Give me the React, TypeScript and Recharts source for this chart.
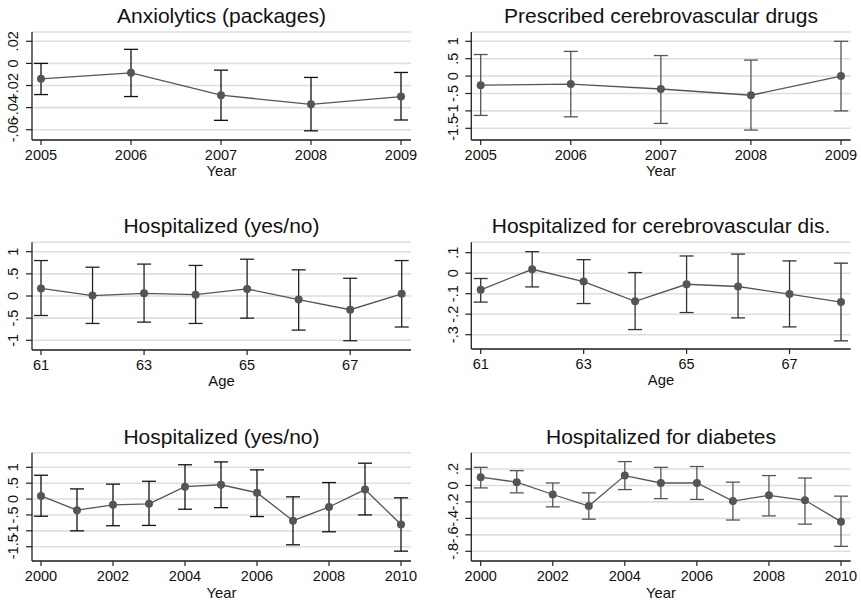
import React from 'react';
import { LineChart, Line, XAxis, YAxis, CartesianGrid, ErrorBar } from 'recharts';

// ---------- Data ----------
// Panel 1: Anxiolytics (packages)
const yearsA = [2005, 2006, 2007, 2008, 2009];
const anxEst = [-0.014, -0.0085, -0.0288, -0.037, -0.03];
const anxLo = [-0.0282, -0.03, -0.0515, -0.061, -0.0512];
const anxHi = [0.0, 0.0127, -0.0061, -0.0127, -0.0082];
const anxTicks = [-0.06, -0.04, -0.02, 0, 0.02];

// Panel 2: Prescribed cerebrovascular drugs
const cereEst = [-0.26, -0.23, -0.37, -0.55, 0.0];
const cereLo = [-1.13, -1.17, -1.36, -1.55, -1.0];
const cereHi = [0.62, 0.71, 0.59, 0.46, 1.0];
const cereTicks = [-1.5, -1, -0.5, 0, 0.5, 1];

// Panel 3: Hospitalized (yes/no) by age
const ages = [61, 62, 63, 64, 65, 66, 67, 68];
const ageTicks = [61, 63, 65, 67];
const hospAgeEst = [0.17, 0.01, 0.06, 0.03, 0.16, -0.08, -0.31, 0.05];
const hospAgeLo = [-0.44, -0.62, -0.59, -0.62, -0.5, -0.77, -1.01, -0.7];
const hospAgeHi = [0.8, 0.65, 0.72, 0.69, 0.83, 0.59, 0.4, 0.8];
const hospAgeTicks = [-1, -0.5, 0, 0.5, 1];

// Panel 4: Hospitalized for cerebrovascular dis. by age
const cvdAgeEst = [-0.081, 0.019, -0.041, -0.137, -0.054, -0.065, -0.102, -0.141];
const cvdAgeLo = [-0.141, -0.067, -0.148, -0.275, -0.192, -0.218, -0.262, -0.33];
const cvdAgeHi = [-0.026, 0.105, 0.066, 0.003, 0.084, 0.093, 0.06, 0.049];
const cvdAgeTicks = [-0.3, -0.2, -0.1, 0, 0.1];

// Panel 5: Hospitalized (yes/no) by year
const yearsB = [2000, 2001, 2002, 2003, 2004, 2005, 2006, 2007, 2008, 2009, 2010];
const yearBTicks = [2000, 2002, 2004, 2006, 2008, 2010];
const hospYrEst = [0.1, -0.35, -0.18, -0.15, 0.39, 0.45, 0.2, -0.68, -0.25, 0.3, -0.8];
const hospYrLo = [-0.54, -1.0, -0.84, -0.83, -0.32, -0.27, -0.55, -1.44, -1.03, -0.5, -1.64];
const hospYrHi = [0.75, 0.32, 0.47, 0.56, 1.08, 1.17, 0.92, 0.07, 0.52, 1.13, 0.04];
const hospYrTicks = [-1.5, -1, -0.5, 0, 0.5, 1];

// Panel 6: Hospitalized for diabetes by year
const diabEst = [0.1, 0.04, -0.11, -0.25, 0.12, 0.03, 0.03, -0.19, -0.12, -0.18, -0.44];
const diabLo = [-0.03, -0.09, -0.26, -0.41, -0.05, -0.16, -0.17, -0.42, -0.37, -0.47, -0.74];
const diabHi = [0.22, 0.18, 0.03, -0.09, 0.29, 0.22, 0.23, 0.04, 0.12, 0.09, -0.13];
const diabTicks = [-0.8, -0.6, -0.4, -0.2, 0, 0.2];

// ---------- Helpers ----------
const FONT = '"Liberation Sans", Arial, Helvetica, sans-serif';
const TEXT = '#111';

const build = (xs: number[], est: number[], lo: number[], hi: number[]) =>
  xs.map((x, i) => ({ x, y: est[i], err: [est[i] - lo[i], hi[i] - est[i]] }));

const fmt = (v: number) => {
  if (Math.abs(v) < 1e-12) return '0';
  const s = String(+v.toFixed(4));
  return s.replace(/^(-?)0\./, '$1.');
};

const YTick = (props: any) => {
  const { x, y, payload } = props;
  return (
    <text
      x={x}
      y={y}
      transform={`rotate(-90 ${x} ${y})`}
      textAnchor="middle"
      fontSize={14.5}
      fontFamily={FONT}
      fill={TEXT}
    >
      {fmt(payload.value)}
    </text>
  );
};

type Panel = {
  title: string;
  xLabel: string;
  data: any[];
  xDomain: [number, number];
  xTicks: number[];
  yTicks: number[];
  yDomain: [number, number];
  left: number;
  top: number;
  w: number;
  h: number;
  plotL: number;
  plotR: number;
  plotT: number;
  plotB: number;
  padL: number;
  padR: number;
  errColor: string;
  titleY: number;
  labelOffset: number;
};

const panels: Panel[] = [
  {
    title: 'Anxiolytics (packages)', xLabel: 'Year',
    data: build(yearsA, anxEst, anxLo, anxHi),
    xDomain: [2005, 2009], xTicks: yearsA, yTicks: anxTicks, yDomain: [-0.0693, 0.0284],
    left: 0, top: 0, w: 430, h: 200, plotL: 32, plotR: 411, plotT: 32, plotB: 140,
    padL: 9, padR: 10, errColor: '#111', titleY: 23.3, labelOffset: 4.3,
  },
  {
    title: 'Prescribed cerebrovascular drugs', xLabel: 'Year',
    data: build(yearsA, cereEst, cereLo, cereHi),
    xDomain: [2005, 2009], xTicks: yearsA, yTicks: cereTicks, yDomain: [-1.836, 1.267],
    left: 430, top: 0, w: 431, h: 200, plotL: 41.3, plotR: 420.7, plotT: 32, plotB: 140,
    padL: 9.4, padR: 9.7, errColor: '#555', titleY: 23.3, labelOffset: 4.3,
  },
  {
    title: 'Hospitalized (yes/no)', xLabel: 'Age',
    data: build(ages, hospAgeEst, hospAgeLo, hospAgeHi),
    xDomain: [61, 68], xTicks: ageTicks, yTicks: hospAgeTicks, yDomain: [-1.219, 1.212],
    left: 0, top: 200, w: 430, h: 200, plotL: 32, plotR: 411, plotT: 42.3, plotB: 150,
    padL: 9, padR: 9.3, errColor: '#222', titleY: 33.3, labelOffset: 4.5,
  },
  {
    title: 'Hospitalized for cerebrovascular dis.', xLabel: 'Age',
    data: build(ages, cvdAgeEst, cvdAgeLo, cvdAgeHi),
    xDomain: [61, 68], xTicks: ageTicks, yTicks: cvdAgeTicks, yDomain: [-0.3698, 0.1507],
    left: 430, top: 200, w: 431, h: 200, plotL: 41.3, plotR: 420.7, plotT: 42.3, plotB: 149,
    padL: 9.4, padR: 9.7, errColor: '#333', titleY: 33, labelOffset: 4.5,
  },
  {
    title: 'Hospitalized (yes/no)', xLabel: 'Year',
    data: build(yearsB, hospYrEst, hospYrLo, hospYrHi),
    xDomain: [2000, 2010], xTicks: yearBTicks, yTicks: hospYrTicks, yDomain: [-1.95, 1.46],
    left: 0, top: 400, w: 430, h: 204, plotL: 32, plotR: 411, plotT: 52.7, plotB: 161,
    padL: 9, padR: 10, errColor: '#111', titleY: 44.3, labelOffset: 3,
  },
  {
    title: 'Hospitalized for diabetes', xLabel: 'Year',
    data: build(yearsB, diabEst, diabLo, diabHi),
    xDomain: [2000, 2010], xTicks: yearBTicks, yTicks: diabTicks, yDomain: [-0.918, 0.398],
    left: 430, top: 400, w: 431, h: 204, plotL: 41.3, plotR: 420.7, plotT: 52.7, plotB: 161,
    padL: 9.4, padR: 9.7, errColor: '#555', titleY: 44.3, labelOffset: 3,
  },
];

const AXIS_H = 40;

const PanelChart = ({ p }: { p: Panel }) => (
  <div style={{ position: 'absolute', left: p.left, top: p.top, width: p.w, height: p.h }}>
    <LineChart
      width={p.w}
      height={p.h}
      data={p.data}
      margin={{ top: p.plotT, right: p.w - p.plotR, left: 0, bottom: p.h - p.plotB - AXIS_H }}
    >
      <CartesianGrid vertical={false} stroke="#dedede" strokeWidth={1.6} />
      <XAxis
        dataKey="x"
        type="number"
        domain={p.xDomain}
        ticks={p.xTicks}
        padding={{ left: p.padL, right: p.padR }}
        height={AXIS_H}
        tickSize={5}
        tickMargin={5}
        stroke="#222"
        strokeWidth={1.3}
        tick={{ fontSize: 14.5, fill: TEXT, fontFamily: FONT }}
        tickLine={{ stroke: '#222', strokeWidth: 1.2 }}
        interval={0}
        allowDecimals={false}
        label={{ value: p.xLabel, position: 'insideBottom', offset: p.labelOffset, fontSize: 14.8, fill: TEXT, fontFamily: FONT }}
      />
      <YAxis
        type="number"
        domain={p.yDomain}
        ticks={p.yTicks}
        allowDataOverflow
        width={p.plotL}
        tickSize={6}
        tickMargin={7.5}
        stroke="#222"
        strokeWidth={1.3}
        tickLine={{ stroke: '#222', strokeWidth: 1.2 }}
        tick={<YTick />}
        interval={0}
      />
      <Line
        dataKey="y"
        stroke="#555"
        strokeWidth={1.3}
        dot={{ r: 4, fill: '#555', stroke: '#555', strokeWidth: 0 }}
        isAnimationActive={false}
      >
        <ErrorBar dataKey="err" direction="y" width={7} stroke={p.errColor} strokeWidth={1.3} isAnimationActive={false} />
      </Line>
    </LineChart>
  </div>
);

export default function App() {
  return (
    <div style={{ position: 'absolute', left: 0, top: 0, width: 861, height: 604, background: '#fff', overflow: 'hidden' }}>
      {panels.map((p, i) => (
        <PanelChart key={i} p={p} />
      ))}
      <svg width={861} height={604} style={{ position: 'absolute', left: 0, top: 0, pointerEvents: 'none' }}>
        {panels.map((p, i) => (
          <text
            key={i}
            x={p.left + (p.plotL + p.plotR) / 2}
            y={p.top + p.titleY}
            textAnchor="middle"
            fontSize={21}
            fontFamily={FONT}
            fill={TEXT}
          >
            {p.title}
          </text>
        ))}
      </svg>
    </div>
  );
}
